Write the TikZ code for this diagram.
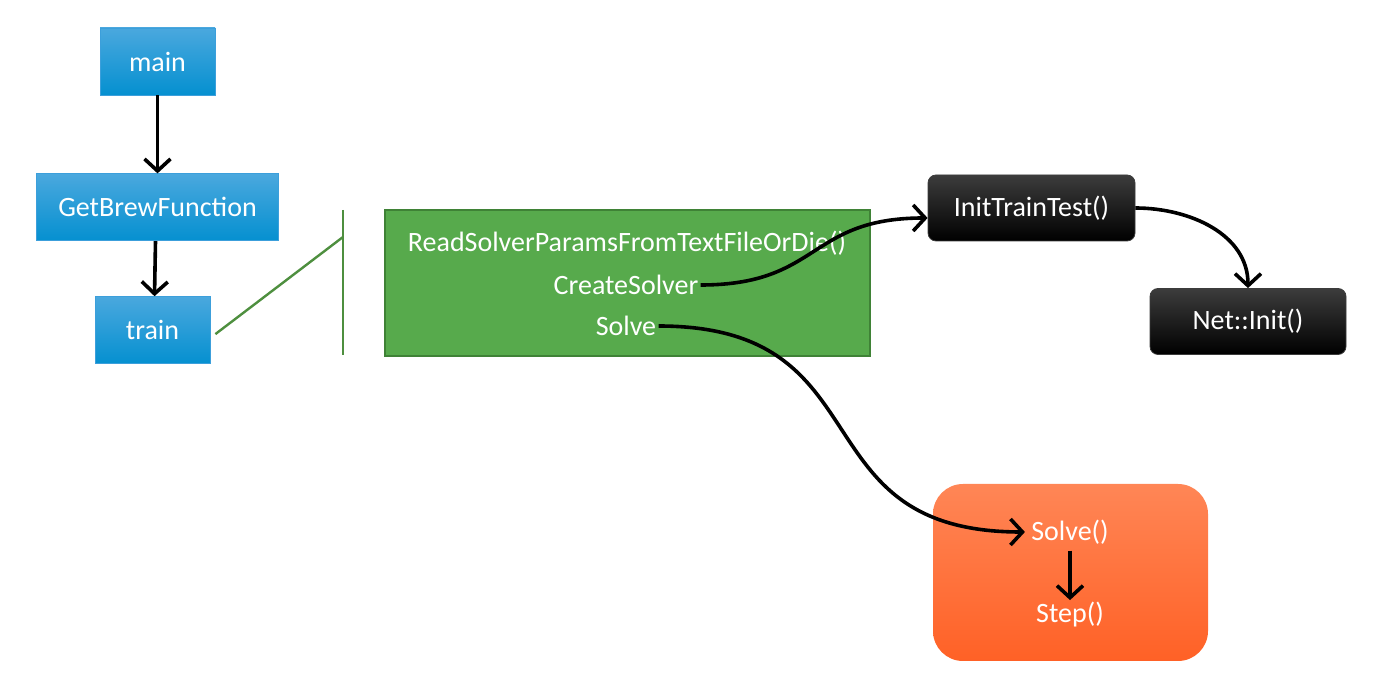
\documentclass[tikz,border=0pt]{standalone}
\usepackage{fontspec}
\setmainfont{Carlito}
\usepackage{tikz}
\usetikzlibrary{arrows.meta,positioning}
\usepackage{xcolor}
\definecolor{CallBlueTop}{HTML}{4AA8DE}
\definecolor{CallBlueBot}{HTML}{0590D0}
\definecolor{CallBlueLine}{HTML}{3C9FDB}
\definecolor{SolverGreen}{HTML}{57AA4C}
\definecolor{SolverGreenLine}{HTML}{3F8236}
\definecolor{BraceGreen}{HTML}{4E8F3F}
\definecolor{NetGrey}{HTML}{3C3C3C}
\definecolor{StepTop}{HTML}{FF8656}
\definecolor{StepBot}{HTML}{FF6126}

\begin{document}
\begin{tikzpicture}[
    x=0.5pt,y=-0.5pt,
    font=\fontsize{14}{16}\selectfont,
    callbox/.style={draw=CallBlueLine,top color=CallBlueTop,bottom color=CallBlueBot,
      text=white,minimum width=57.5pt,minimum height=33.5pt},
    netbox/.style={draw=NetGrey,rounded corners=4pt,top color=NetGrey,bottom color=black,
      text=white,minimum height=33pt},
    codeline/.style={text=white,inner sep=1pt},
    arr/.style={-{Straight Barb[length=6pt,width=13pt]},line width=1.8pt,draw=black}
  ]
    \useasboundingbox (0,0) rectangle (1387,683);
    % call chain on the left
    \node[callbox] (main) at (157.5,61.5) {main};
    \node[callbox,minimum width=121pt,below=39pt of main] (brew) {GetBrewFunction};
    \node[callbox,below=27.5pt of brew,xshift=-2.5pt] (train) {train};
    \draw[arr] (main)--(brew);
    \draw[arr] ([xshift=-1pt]brew.south)--([xshift=1pt]train.north);
    % bracket to the train body
    \coordinate (brtop) at (343,210);
    \coordinate (brbot) at (343,355);
    \coordinate (brmid) at (343,237);
    \draw[BraceGreen,line width=1.2pt] (brtop)--(brbot);
    \draw[BraceGreen,line width=1.2pt] ([xshift=2.5pt,yshift=-2pt]train.east)--(brmid);
    % body of train
    \node[draw=SolverGreenLine,line width=1pt,fill=SolverGreen,
      minimum width=242.5pt,minimum height=73pt] (body) at (627.5,283) {};
    \node[codeline] (readp) at (627,243) {ReadSolverParamsFromTextFileOrDie()};
    \node[codeline] (create) at (626,285) {CreateSolver};
    \node[codeline] (solve) at (626,326) {Solve};
    % net setup
    \node[netbox,minimum width=103.5pt] (itt) at (1031.5,208) {InitTrainTest()};
    \node[netbox,minimum width=98pt] (netinit) at (1248,321.5) {Net::Init()};
    % solver loop
    \node[rounded corners=15pt,top color=StepTop,bottom color=StepBot,
      minimum width=137.5pt,minimum height=88.5pt] (loop) at (1070.5,572.5) {};
    \node[codeline,inner sep=3pt] (solvefn) at (1070,532) {Solve()};
    \node[codeline] (stepfn) at (1070,615) {Step()};
    \draw[arr] (create.east) to[out=0,in=180,looseness=1.3] ([yshift=-5pt]itt.west);
    \draw[arr] (itt.east) to[out=0,in=90] (netinit.north);
    \draw[arr] (solve.east) to[out=0,in=180,looseness=1.4] (solvefn.west);
    \draw[arr] (solvefn.south)--(stepfn.north);
  \end{tikzpicture}
\end{document}
